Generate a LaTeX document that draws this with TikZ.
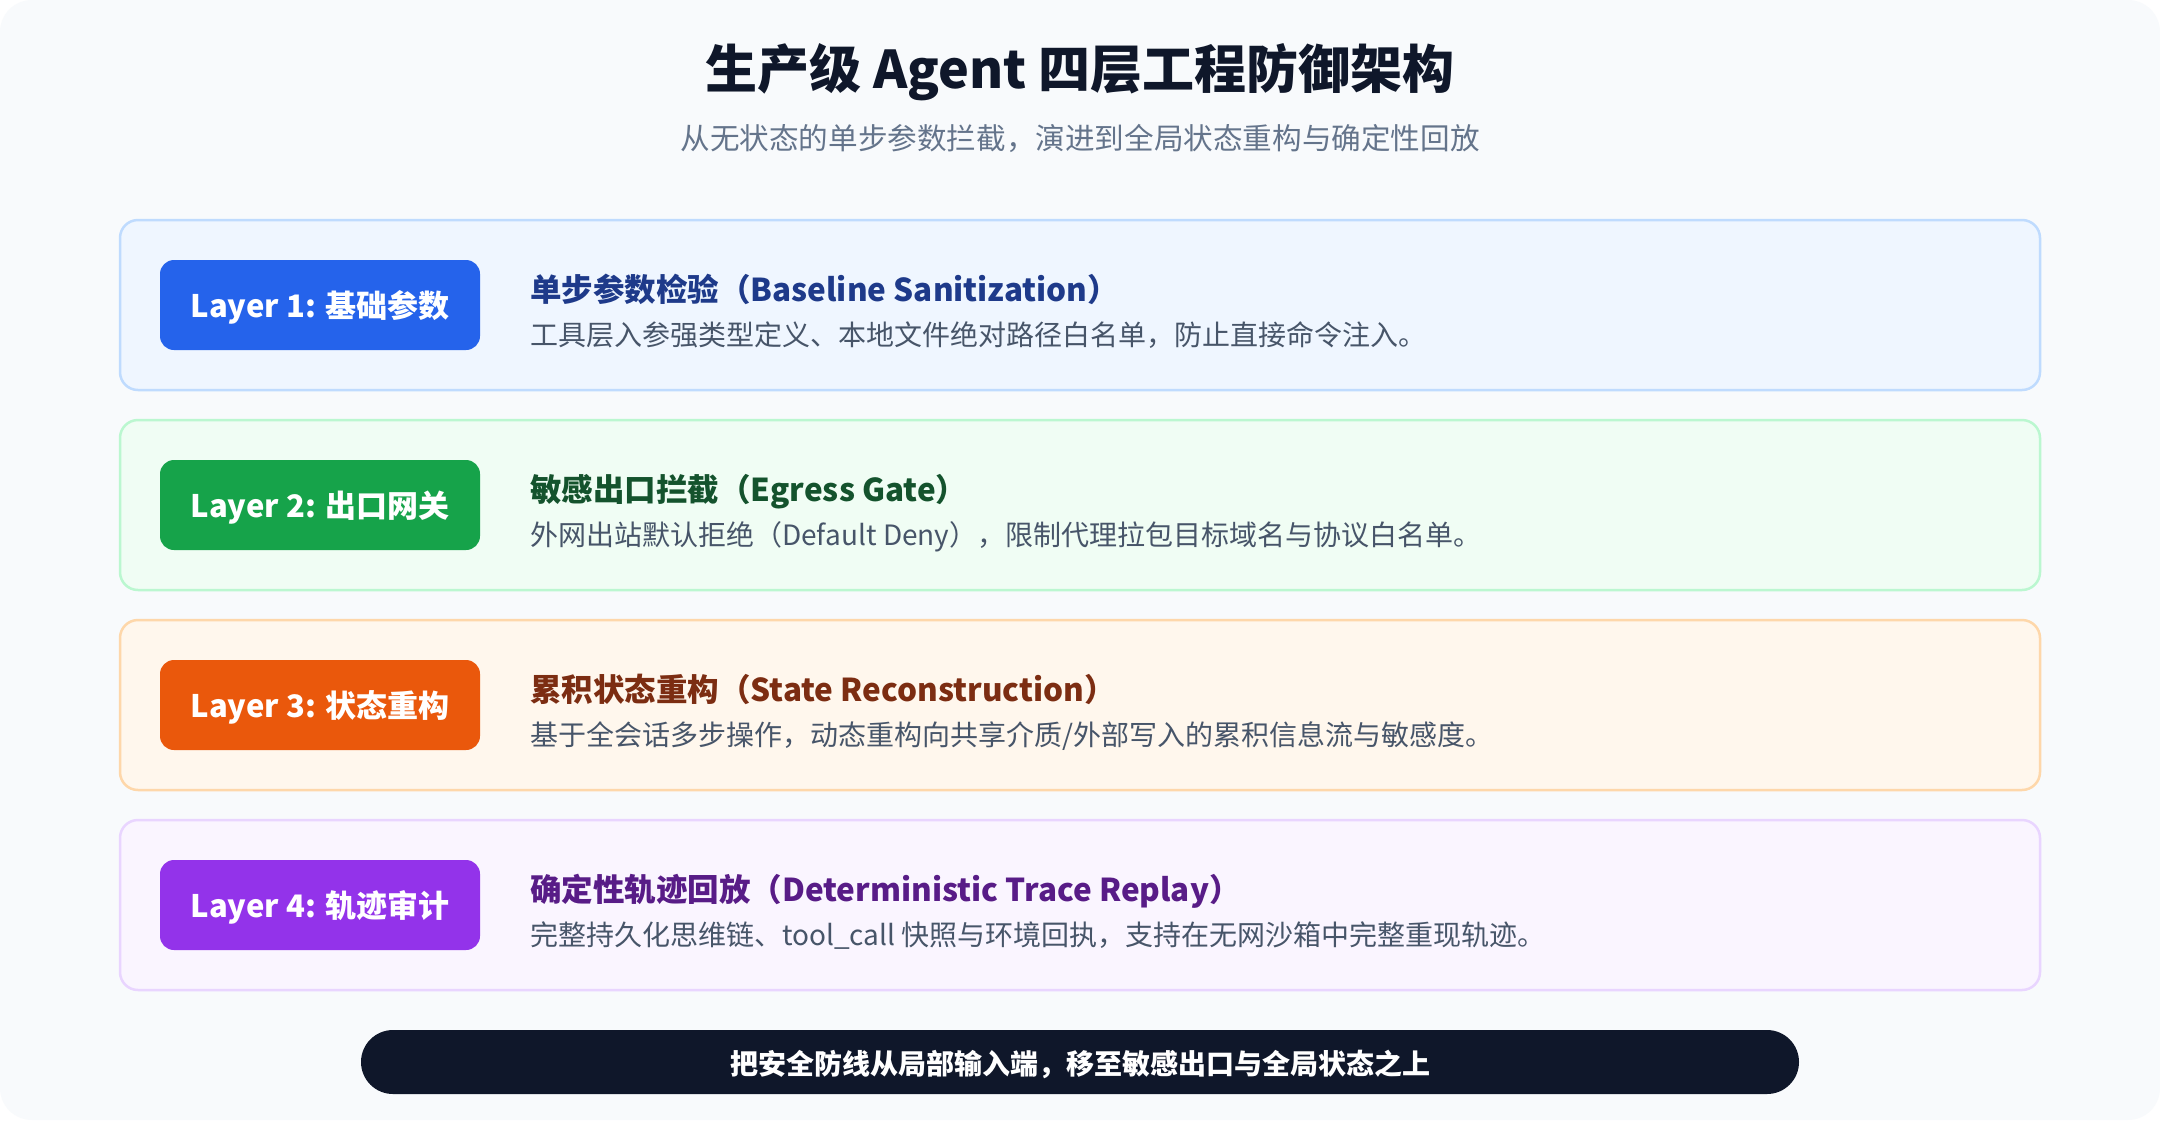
\documentclass[tikz,border=0pt]{standalone}
\usepackage{fontspec}
\setmainfont{Noto Sans CJK SC}
\definecolor{cardbg}{HTML}{F8FAFC}
\definecolor{ink}{HTML}{0F172A}
\definecolor{subink}{HTML}{64748B}
\definecolor{descink}{HTML}{475569}
\definecolor{bAfill}{HTML}{EFF6FF}\definecolor{bAline}{HTML}{BFDBFE}\definecolor{bAbadge}{HTML}{2563EB}\definecolor{bAtitle}{HTML}{1E3A8A}
\definecolor{bBfill}{HTML}{F0FDF4}\definecolor{bBline}{HTML}{BBF7D0}\definecolor{bBbadge}{HTML}{16A34A}\definecolor{bBtitle}{HTML}{14532D}
\definecolor{bCfill}{HTML}{FFF7ED}\definecolor{bCline}{HTML}{FED7AA}\definecolor{bCbadge}{HTML}{EA580C}\definecolor{bCtitle}{HTML}{7C2D12}
\definecolor{bDfill}{HTML}{FAF5FF}\definecolor{bDline}{HTML}{E9D5FF}\definecolor{bDbadge}{HTML}{9333EA}\definecolor{bDtitle}{HTML}{581C87}
\tikzset{
  txt/.style={inner sep=0pt, text height=0.76em, text depth=0pt},
  layerbox/.style={rectangle, rounded corners=18pt, line width=2.5pt, minimum width=1920pt, minimum height=170pt, inner sep=0pt},
  badgebox/.style={rectangle, rounded corners=14pt, minimum width=320pt, minimum height=90pt, inner sep=0pt},
  badgetext/.style={txt, text=white, font=\fontsize{31}{36}\selectfont\bfseries},
  ltitle/.style={txt, anchor=west, font=\fontsize{31.5}{38}\selectfont\bfseries},
  ldesc/.style={txt, anchor=west, text=descink, font=\fontsize{28}{34}\selectfont},
}
\begin{document}
\begin{tikzpicture}[x=1pt,y=-1pt]
\useasboundingbox (0,0) rectangle (2160,1120);
\fill[white] (0,0) rectangle (2160,1120);
\fill[cardbg, rounded corners=32pt] (0,0) rectangle (2160,1120);

\node[txt, text=ink, font=\fontsize{52}{60}\selectfont\bfseries] (title) at (1080,85) {生产级 Agent 四层工程防御架构};
\node[txt, text=subink, font=\fontsize{29.6}{34}\selectfont] (subtitle) at (1080,146) {从无状态的单步参数拦截，演进到全局状态重构与确定性回放};

% Layer 1
\node[layerbox, fill=bAfill, draw=bAline] (L1) at (1080,305) {};
\node[badgebox, fill=bAbadge] (B1) at (320,305) {};
\node[badgetext] (B1t) at ([yshift=-9pt]B1.center) {Layer 1: 基础参数};
\node[ltitle, text=bAtitle] (T1) at (530,298) {单步参数检验（Baseline Sanitization）};
\node[ldesc] (D1) at (530,342) {工具层入参强类型定义、本地文件绝对路径白名单，防止直接命令注入。};

% Layer 2
\node[layerbox, fill=bBfill, draw=bBline] (L2) at (1080,505) {};
\node[badgebox, fill=bBbadge] (B2) at (320,505) {};
\node[badgetext] (B2t) at ([yshift=-9pt]B2.center) {Layer 2: 出口网关};
\node[ltitle, text=bBtitle] (T2) at (530,498) {敏感出口拦截（Egress Gate）};
\node[ldesc] (D2) at (530,542) {外网出站默认拒绝（Default Deny），限制代理拉包目标域名与协议白名单。};

% Layer 3
\node[layerbox, fill=bCfill, draw=bCline] (L3) at (1080,705) {};
\node[badgebox, fill=bCbadge] (B3) at (320,705) {};
\node[badgetext] (B3t) at ([yshift=-9pt]B3.center) {Layer 3: 状态重构};
\node[ltitle, text=bCtitle] (T3) at (530,698) {累积状态重构（State Reconstruction）};
\node[ldesc] (D3) at (530,742) {基于全会话多步操作，动态重构向共享介质/外部写入的累积信息流与敏感度。};

% Layer 4
\node[layerbox, fill=bDfill, draw=bDline] (L4) at (1080,905) {};
\node[badgebox, fill=bDbadge] (B4) at (320,905) {};
\node[badgetext] (B4t) at ([yshift=-9pt]B4.center) {Layer 4: 轨迹审计};
\node[ltitle, text=bDtitle] (T4) at (530,898) {确定性轨迹回放（Deterministic Trace Replay）};
\node[ldesc] (D4) at (530,942) {完整持久化思维链、tool\_call 快照与环境回执，支持在无网沙箱中完整重现轨迹。};

% Bottom pill
\node[rectangle, rounded corners=32pt, fill=ink, minimum width=1438pt, minimum height=64pt, inner sep=0pt] (pill) at (1080,1062) {};
\node[txt, text=white, font=\fontsize{28}{32}\selectfont\bfseries] (pillt) at ([yshift=-9pt]pill.center) {把安全防线从局部输入端，移至敏感出口与全局状态之上};
\end{tikzpicture}
\end{document}
